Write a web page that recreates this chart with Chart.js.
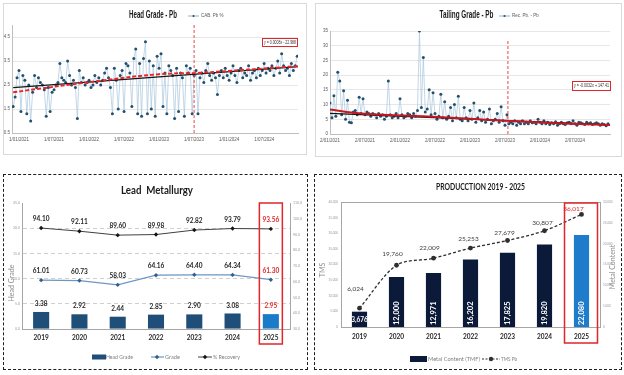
<!DOCTYPE html>
<html>
<head>
<meta charset="utf-8">
<title>Lead metallurgy dashboard</title>
<script src="https://cdn.jsdelivr.net/npm/chart.js@4.4.1/dist/chart.umd.min.js"></script>
<style>
  body { margin: 0; background: #fff; }
  #page { position: relative; width: 624px; height: 375px; overflow: hidden; }
  .box { position: absolute; box-sizing: border-box; }
  .solid { border: 1px solid #d9d9d9; }
  .dash { border: 1px dashed #1e1e1e; }
  canvas { position: absolute; }
</style>
</head>
<body>
<div id="page">
  <div class="box solid" style="left:3px;top:3px;width:304px;height:152px"></div>
  <div class="box solid" style="left:315px;top:3px;width:307px;height:154px"></div>
  <div class="box dash" style="left:3px;top:174px;width:305px;height:196px"></div>
  <div class="box dash" style="left:314px;top:174px;width:308px;height:196px"></div>
  <canvas id="headChart" width="304" height="152" style="left:3px;top:3px"></canvas>
  <canvas id="tailChart" width="307" height="154" style="left:315px;top:3px"></canvas>
  <canvas id="metChart" width="303" height="194" style="left:4px;top:175px"></canvas>
  <canvas id="prodChart" width="306" height="194" style="left:315px;top:175px"></canvas>
</div>
<script>
// ---- daily plant data, sampled 3 times a month, month 0 = Jan 2021 ----
const samplesPerMonth = 3;

const headTickMonths = [0, 6, 12, 18, 24, 30, 36, 42];
const headTickLabels = ["1/01/2021", "1/07/2021", "1/01/2022", "1/07/2022", "1/01/2023", "1/07/2023", "1/01/2024", "1/07/2024"];
const headYTicks = [0.5, 1.5, 2.5, 3.5, 4.5];
const headStart = -1;
const headGrade = [
  1.6, 2.0, 2.8,  3.1, 1.4, 2.9,  2.7, 1.3, 2.5,  1.0, 2.2, 2.9,  2.4, 2.8, 2.6,
  2.5, 2.3, 1.2,  2.4, 1.4, 2.2,  2.3, 2.5, 2.6,  3.4, 2.8, 2.7,  2.6, 3.5, 2.9,
  2.5, 2.7, 2.4,  1.1, 3.1, 2.6,  2.8, 2.5, 2.6,  2.7, 2.4, 2.5,  2.9, 2.6, 2.8,
  2.5, 2.7, 3.0,  3.2, 2.8, 2.4,  1.3, 3.2, 2.7,  1.5, 2.9, 3.1,  1.4, 3.4, 3.3,
  3.0, 1.6, 3.6,  4.0, 1.3, 3.4,  1.2, 3.6, 4.3,  1.3, 3.5, 1.5,  3.3, 1.2, 3.7,
  3.2, 3.8, 1.6,  3.0, 1.3, 3.3,  3.1, 2.9, 1.1,  3.2, 1.4, 3.0,  2.8, 1.2, 3.3,
  3.0, 3.2, 1.3,  2.9, 3.1, 1.3,  2.8, 3.0, 2.6,  3.1, 3.4, 2.9,  2.7, 3.0, 2.8,
  2.1, 2.9, 3.1,  2.8, 3.2, 2.9,  2.7, 3.0, 3.3,  2.9, 2.6, 3.1,  3.2, 2.8, 3.0,
  2.9, 3.3, 2.7,  3.0, 3.1, 2.8,  3.2, 2.9, 3.1,  3.4, 3.0, 3.2,  3.1, 3.3, 2.9,
  3.2, 3.5, 3.0,  3.8, 3.3, 3.1,  3.2, 2.9, 3.4,  3.1, 3.3, 3.7
];
const headPolyX = [-1, 14, 24, 31, 48];
const headPolyY = [2.20, 2.68, 2.95, 3.01, 3.29];
const headLinX = [-1, 48];
const headLinY = [2.39, 3.27];
const headCut = 30;

const tailTickMonths = [0, 6, 12, 18, 24, 30, 36, 42];
const tailTickLabels = ["2/01/2021", "2/07/2021", "2/01/2022", "2/07/2022", "2/01/2023", "2/07/2023", "2/01/2024", "2/07/2024"];
const tailYTicks = [0, 5, 10, 15, 20, 25, 30, 35];
const tailStart = 0;
const tailGrade = [
  10.5, 5.5, 13,  6, 21, 18,  6.5, 14.7, 5,  11.5, 4, 3.8,  7.5, 8, 6.5,
  12.5, 7, 12,  6.5, 7.5, 7,  6, 7, 6.5,  5.5, 7, 6,  6.5, 5, 6,
  18, 6.5, 5.5,  6, 7, 5.5,  12, 6.5, 5.5,  6, 7, 6.5,  5.5, 7, 6,
  8, 35, 9,  26, 7.5, 8.5,  15, 6.5, 14,  7, 5, 6,  13.5, 5.5, 11,
  5, 6, 9,  4.5, 10, 5.5,  12.8, 5, 4.5,  9, 5.5, 4.5,  8, 5, 10.5,
  4, 5.5, 8,  4.5, 7.5, 4,  5, 8.5, 3.5,  4.5, 5, 7,  4, 9.3, 4.5,
  3, 6.5, 3.5,  4, 3.5, 4.5,  3, 4, 3.5,  4.5, 3.5, 4,  3.5, 4.5, 3.8,
  4, 3.5, 5,  4, 3.5, 4.5,  3.5, 4, 3.2,  3.8, 3.5, 4.2,  3, 3.5, 4,
  3.5, 3.2, 3.8,  4, 3.5, 4.5,  3.5, 3, 4,  3.8, 3.5, 3.2,  4, 3.5, 3.8,
  3.2, 3.5, 3.8,  3.5, 3, 3.5,  3.2, 2.8, 3.5
];
const tailPolyX = [0, 4, 8, 16, 24, 31, 40, 48];
const tailPolyY = [8.3, 7.2, 6.6, 6.0, 5.2, 4.4, 3.6, 3.1];
const tailLinX = [0, 48];
const tailLinY = [7.0, 3.1];
const tailCut = 30.5;

// ---- yearly summary ----
const years = ["2019", "2020", "2021", "2022", "2023", "2024", "2025"];
const headGradeYear = [3.38, 2.92, 2.44, 2.85, 2.90, 3.08, 2.95];
const concGrade = [61.01, 60.73, 58.03, 64.16, 64.40, 64.34, 61.30];
const recovery = [94.10, 92.11, 89.60, 89.98, 92.82, 93.79, 93.56];
const metalContent = [3676, 12000, 12971, 16202, 17825, 19820, 22080];
const tmsPb = [6024, 19760, 22009, 25253, 27679, 30807, 36017];

const RED = '#E0262B';
const NARROW = '"Liberation Sans Narrow", "Liberation Sans", sans-serif';
const LATO = 'Lato, "Open Sans", sans-serif';

function fit(size) {
  return s => {
    if (s.isHorizontal()) s.height = size; else s.width = size;
    s.paddingLeft = s.paddingRight = s.paddingTop = s.paddingBottom = 0;
  };
}
function pairs(xs, ys) { return xs.map((x, i) => ({ x: x, y: ys[i] })); }

function txt(ctx, s, x, y, font, color, align) {
  ctx.save();
  ctx.font = font; ctx.fillStyle = color;
  ctx.textAlign = align || 'center'; ctx.textBaseline = 'middle';
  ctx.fillText(s, x, y);
  ctx.restore();
}
// text squeezed to a given width (condensed fonts); align left or center
function squeezed(ctx, s, x, y, font, color, width, align) {
  ctx.save();
  ctx.font = font; ctx.fillStyle = color;
  ctx.textAlign = align || 'center'; ctx.textBaseline = 'middle';
  const w = ctx.measureText(s).width;
  ctx.translate(x, y);
  ctx.scale(width / w, 1);
  ctx.fillText(s, 0, 0);
  ctx.restore();
}
function vtxt(ctx, s, x, y, font, color) {
  ctx.save();
  ctx.translate(x, y); ctx.rotate(-Math.PI / 2);
  txt(ctx, s, 0, 0, font, color);
  ctx.restore();
}

function timeChart(id, o) {
  const deco = {
    id: 'deco',
    afterDatasetsDraw(chart) {
      const { ctx, chartArea: a, scales: { x } } = chart;
      const cx = x.getPixelForValue(o.cut);
      ctx.save();
      ctx.strokeStyle = '#E8484B'; ctx.lineWidth = 1; ctx.setLineDash([3, 2]);
      ctx.beginPath(); ctx.moveTo(cx, a.top + o.cutTop); ctx.lineTo(cx, a.bottom); ctx.stroke();
      ctx.setLineDash([]);
      const b = o.box;
      ctx.fillStyle = '#fff'; ctx.fillRect(b[0], b[1], b[2], b[3]);
      ctx.strokeStyle = RED; ctx.lineWidth = 1; ctx.strokeRect(b[0] + 0.5, b[1] + 0.5, b[2], b[3]);
      ctx.restore();
      squeezed(ctx, o.equation, b[0] + b[2] / 2 + 0.5, b[1] + b[3] / 2 + 0.5, '5px ' + NARROW, '#333', b[2] - 3);
    },
    afterDraw(chart) {
      const ctx = chart.ctx;
      squeezed(ctx, o.title, o.titleX, 12, 'bold 10.5px ' + NARROW, '#1a1a1a', o.titleW);
      const lx = o.legendX;
      ctx.save();
      ctx.strokeStyle = '#7f9fb8'; ctx.lineWidth = 0.8;
      ctx.beginPath(); ctx.moveTo(lx, 13); ctx.lineTo(lx + 11, 13); ctx.stroke();
      ctx.fillStyle = '#24526F';
      ctx.beginPath(); ctx.arc(lx + 5.5, 13, 1.1, 0, Math.PI * 2); ctx.fill();
      ctx.restore();
      txt(ctx, o.legend, lx + 13, 13, '4.5px ' + NARROW, '#595959', 'left');
    }
  };
  return new Chart(document.getElementById(id), {
    type: 'line',
    data: {
      datasets: [
        { data: pairs(o.polyX, o.polyY), borderColor: o.polyColor, borderWidth: 2, borderDash: o.polyDash,
          pointRadius: 0, tension: 0.4, order: 0 },
        { data: pairs(o.linX, o.linY), borderColor: '#141414', borderWidth: 1.1, pointRadius: 0, order: 1 },
        { data: o.values.map((v, i) => ({ x: o.start + i / samplesPerMonth, y: v })),
          borderColor: '#A8C6DC', borderWidth: 0.7, pointRadius: 1.5, pointBackgroundColor: '#23506D',
          pointBorderWidth: 0, order: 2 }
      ]
    },
    options: {
      responsive: false, animation: false, events: [],
      layout: { padding: o.pad },
      plugins: { legend: { display: false }, tooltip: { enabled: false } },
      scales: {
        x: {
          type: 'linear', min: o.xMin, max: o.xMax, afterFit: fit(16),
          afterBuildTicks: s => { s.ticks = o.tickMonths.map(v => ({ value: v })); },
          ticks: { callback: (v, i) => o.tickLabels[i], font: { family: NARROW, size: 4.5 }, color: '#595959',
                   maxRotation: 0, autoSkip: false, padding: 4 },
          grid: { display: false, drawTicks: false }, border: { color: '#bfbfbf' }
        },
        y: {
          min: o.yMin, max: o.yMax, afterFit: fit(o.yWidth),
          afterBuildTicks: s => { s.ticks = o.yTicks.map(v => ({ value: v })); },
          ticks: { callback: o.yFormat, font: { family: NARROW, size: 4.5 }, color: '#595959', padding: 2 },
          grid: { color: '#dcdcdc', lineWidth: 0.7, drawTicks: false }, border: { color: '#bfbfbf' }
        }
      }
    },
    plugins: [deco]
  });
}

timeChart('headChart', {
  values: headGrade, start: headStart, tickMonths: headTickMonths, tickLabels: headTickLabels,
  xMin: -1.2, xMax: 47.8, yMin: 0.5, yMax: 5, yTicks: headYTicks, yFormat: v => v.toFixed(1), yWidth: 9,
  pad: { left: 0, right: 9, top: 22, bottom: 6 },
  polyX: headPolyX, polyY: headPolyY, polyColor: '#E8262B', polyDash: [4, 2],
  linX: headLinX, linY: headLinY, cut: headCut, cutTop: 0,
  box: [259, 35, 35, 8], equation: 'y = 0.0008x - 22.988',
  title: 'Head Grade - Pb', titleX: 150, titleW: 48, legend: 'CAB. Pb %', legendX: 185
});

timeChart('tailChart', {
  values: tailGrade, start: tailStart, tickMonths: tailTickMonths, tickLabels: tailTickLabels,
  xMin: 0, xMax: 48, yMin: 0, yMax: 35, yTicks: tailYTicks, yFormat: v => String(v), yWidth: 15,
  pad: { left: 0, right: 12, top: 28, bottom: 7 },
  polyX: tailPolyX, polyY: tailPolyY, polyColor: '#C8161D', polyDash: [],
  linX: tailLinX, linY: tailLinY, cut: tailCut, cutTop: 10,
  box: [257, 78, 38, 9], equation: 'y = -0.0032x + 147.41',
  title: 'Tailing Grade - Pb', titleX: 151.5, titleW: 54, legend: 'Rec. Pb. - Pb', legendX: 184
});

// ---- Lead Metallurgy ----
const last = years.length - 1;
new Chart(document.getElementById('metChart'), {
  type: 'bar',
  data: {
    labels: years,
    datasets: [
      { type: 'line', label: '% Recovery', data: recovery, yAxisID: 'y1', borderColor: '#404040', borderWidth: 1,
        pointStyle: 'rectRot', pointRadius: 2.2, pointBackgroundColor: '#151515', pointBorderWidth: 0, order: 0, labelDy: 9 },
      { type: 'line', label: 'Grade', data: concGrade, yAxisID: 'y1', borderColor: '#6B97C2', borderWidth: 1.2,
        pointStyle: 'rectRot', pointRadius: 2.2, pointBackgroundColor: '#355F8A', pointBorderWidth: 0, order: 1, labelDy: 9 },
      { label: 'Head Grade', data: headGradeYear, yAxisID: 'y',
        backgroundColor: years.map((y, i) => i === last ? '#1A7BC9' : '#1F4E79'),
        barPercentage: 0.42, categoryPercentage: 1, order: 2, labelDy: 8 }
    ]
  },
  options: {
    responsive: false, animation: false, events: [],
    layout: { padding: { left: 0, right: 0, top: 28, bottom: 20 } },
    plugins: { legend: { display: false }, tooltip: { enabled: false } },
    scales: {
      x: { afterFit: fit(20), grid: { display: false, drawTicks: false }, border: { color: '#a6a6a6' },
           ticks: { font: { family: LATO, size: 6.5, weight: 'bold' }, color: '#262626', padding: 5 } },
      y: { position: 'left', min: 0, max: 25, afterFit: fit(18),
           ticks: { stepSize: 5, callback: v => v.toFixed(1), font: { family: LATO, size: 3.5 }, color: '#9a9a9a', padding: 2 },
           grid: { color: c => c.tick && c.tick.value === 25 ? 'rgba(0,0,0,0)' : '#c4c4c4', lineWidth: 0.8, drawTicks: false },
           border: { color: '#a6a6a6', dash: [4, 3] } },
      y1: { position: 'right', min: 30, max: 110, afterFit: fit(17),
            ticks: { stepSize: 10, callback: v => v.toFixed(1), font: { family: LATO, size: 3.5 }, color: '#9a9a9a', padding: 3 },
            grid: { display: false, drawTicks: false }, border: { color: '#a6a6a6' } }
    }
  },
  plugins: [{
    id: 'metDeco',
    afterDatasetsDraw(chart) {
      const { ctx, chartArea: a } = chart;
      chart.data.datasets.forEach((ds, di) => {
        chart.getDatasetMeta(di).data.forEach((el, i) => {
          txt(ctx, ds.data[i].toFixed(2), el.x, el.y - ds.labelDy, 'bold 6.5px ' + LATO, i === last ? RED : '#262626');
        });
      });
      const cx = chart.scales.x.getPixelForValue(last);
      ctx.save();
      ctx.strokeStyle = RED; ctx.lineWidth = 1.5;
      ctx.strokeRect(cx - 11.5, a.top, 23, a.bottom - a.top + 15);
      ctx.restore();
    },
    afterDraw(chart) {
      const ctx = chart.ctx;
      squeezed(ctx, 'Lead  Metallurgy', 153, 15, 'bold 11px ' + LATO, '#1a1a1a', 72);
      vtxt(ctx, 'Head Grade', 8, 108, '7px ' + LATO, '#8c8c8c');
      const ly = 182;
      ctx.save();
      ctx.fillStyle = '#1F4E79'; ctx.fillRect(88, ly - 2.5, 14, 5);
      ctx.strokeStyle = '#6B97C2'; ctx.lineWidth = 1.2;
      ctx.beginPath(); ctx.moveTo(147, ly); ctx.lineTo(160, ly); ctx.stroke();
      ctx.strokeStyle = '#404040'; ctx.lineWidth = 1;
      ctx.beginPath(); ctx.moveTo(194, ly); ctx.lineTo(208, ly); ctx.stroke();
      ctx.fillStyle = '#355F8A';
      ctx.beginPath(); ctx.moveTo(153, ly - 2.2); ctx.lineTo(155.2, ly); ctx.lineTo(153, ly + 2.2); ctx.lineTo(150.8, ly); ctx.fill();
      ctx.fillStyle = '#151515';
      ctx.beginPath(); ctx.moveTo(201, ly - 2.2); ctx.lineTo(203.2, ly); ctx.lineTo(201, ly + 2.2); ctx.lineTo(198.8, ly); ctx.fill();
      ctx.restore();
      squeezed(ctx, 'Head Grade', 102, ly, '6.5px ' + LATO, '#7f7f7f', 27, 'left');
      squeezed(ctx, 'Grade', 161, ly, '6.5px ' + LATO, '#7f7f7f', 15, 'left');
      squeezed(ctx, '% Recovery', 209, ly, '6.5px ' + LATO, '#7f7f7f', 27, 'left');
    }
  }]
});

// ---- Production 2019 - 2025 ----
const lineLabelShift = [[-4, -19], [-4, -11], [-4, -10], [-2, -9], [-3, -8], [-2, -8], [-8, -6]];
const fmt = v => v.toLocaleString('en-US');
new Chart(document.getElementById('prodChart'), {
  type: 'bar',
  data: {
    labels: years,
    datasets: [
      { type: 'line', label: 'TMS Pb', data: tmsPb, yAxisID: 'y', borderColor: '#2f2f2f', borderWidth: 1.3,
        borderDash: [3, 2], tension: 0.3, pointRadius: 2.4, pointBackgroundColor: '#2f2f2f', pointBorderWidth: 0, order: 0 },
      { label: 'Metal Content (TMF)', data: metalContent, yAxisID: 'y1',
        backgroundColor: years.map((y, i) => i === last ? '#1E7CCA' : '#0C1A3A'),
        barPercentage: 0.41, categoryPercentage: 1, order: 1 }
    ]
  },
  options: {
    responsive: false, animation: false, events: [],
    layout: { padding: { left: 0, right: 0, top: 27, bottom: 22 } },
    plugins: { legend: { display: false }, tooltip: { enabled: false } },
    scales: {
      x: { afterFit: fit(20), grid: { display: false, drawTicks: false }, border: { color: '#a6a6a6' },
           ticks: { font: { family: LATO, size: 6.5, weight: 'bold' }, color: '#262626', padding: 6 } },
      y: { position: 'left', min: 0, max: 40000, afterFit: fit(26),
           ticks: { stepSize: 5000, callback: fmt, font: { family: LATO, size: 3 }, color: '#9a9a9a', padding: 3 },
           grid: { display: false, drawTicks: false }, border: { color: '#a6a6a6' } },
      y1: { position: 'right', min: 0, max: 30000, afterFit: fit(21),
            ticks: { stepSize: 5000, callback: fmt, font: { family: LATO, size: 3 }, color: '#9a9a9a', padding: 3 },
            grid: { display: false, drawTicks: false }, border: { color: '#a6a6a6' } }
    }
  },
  plugins: [{
    id: 'prodDeco',
    beforeDatasetsDraw(chart) {
      const { ctx, chartArea: a } = chart;
      ctx.save();
      ctx.strokeStyle = '#a6a6a6'; ctx.lineWidth = 1;
      ctx.beginPath(); ctx.moveTo(a.left, a.top + 0.5); ctx.lineTo(a.right, a.top + 0.5); ctx.stroke();
      ctx.restore();
    },
    afterDatasetsDraw(chart) {
      const { ctx, chartArea: a } = chart;
      chart.getDatasetMeta(1).data.forEach((el, i) => {
        const s = fmt(metalContent[i]);
        if (i === 0) {
          txt(ctx, s, el.x, (el.y + el.base) / 2 + 1, 'bold 6.5px ' + LATO, '#fff');
        } else {
          ctx.save();
          ctx.translate(el.x, el.base - 2); ctx.rotate(-Math.PI / 2);
          txt(ctx, s, 0, 0, 'bold 7.5px ' + LATO, '#fff', 'left');
          ctx.restore();
        }
      });
      chart.getDatasetMeta(0).data.forEach((el, i) => {
        const sh = lineLabelShift[i];
        txt(ctx, fmt(tmsPb[i]), el.x + sh[0], el.y + sh[1], '6.5px ' + LATO, i === last ? RED : '#404040');
      });
      const cx = chart.scales.x.getPixelForValue(last);
      ctx.save();
      ctx.strokeStyle = RED; ctx.lineWidth = 1.5;
      ctx.strokeRect(cx - 17, a.top + 1, 33, a.bottom - a.top + 15);
      ctx.restore();
    },
    afterDraw(chart) {
      const ctx = chart.ctx;
      squeezed(ctx, 'PRODUCCTION 2019 - 2025', 165.5, 12, 'bold 9px ' + LATO, '#1a1a1a', 89);
      vtxt(ctx, 'TMS', 8, 95, '7px ' + LATO, '#8c8c8c');
      vtxt(ctx, 'Metal Content', 298, 92, '7px ' + LATO, '#8c8c8c');
      const ly = 184;
      ctx.save();
      ctx.fillStyle = '#0C1A3A'; ctx.fillRect(95, ly - 3, 17, 6);
      ctx.strokeStyle = '#2f2f2f'; ctx.lineWidth = 1.2; ctx.setLineDash([2, 1.5]);
      ctx.beginPath(); ctx.moveTo(167, ly); ctx.lineTo(185, ly); ctx.stroke();
      ctx.setLineDash([]);
      ctx.fillStyle = '#2f2f2f';
      ctx.beginPath(); ctx.arc(176, ly, 2.2, 0, Math.PI * 2); ctx.fill();
      ctx.restore();
      squeezed(ctx, 'Metal Content (TMF)', 113, ly, '6.5px ' + LATO, '#7f7f7f', 52, 'left');
      squeezed(ctx, 'TMS Pb', 186, ly, '6.5px ' + LATO, '#7f7f7f', 16, 'left');
    }
  }]
});
</script>
</body>
</html>
